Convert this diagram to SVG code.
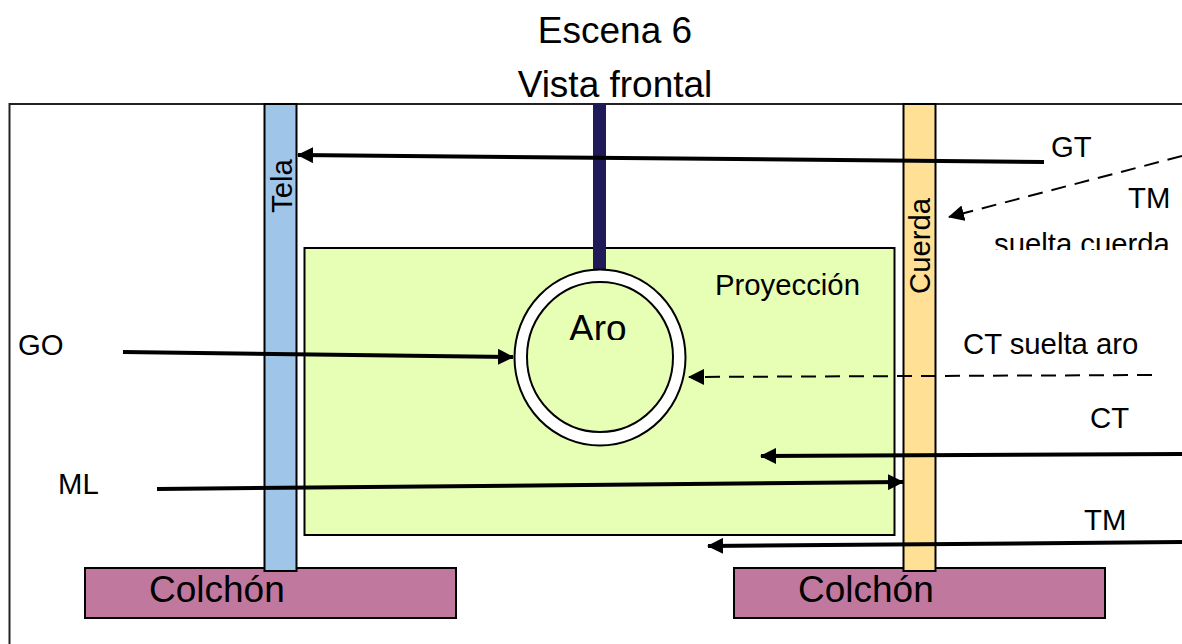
<svg xmlns="http://www.w3.org/2000/svg" width="1182" height="644" viewBox="0 0 1182 644">
<style>
text{font-family:"Liberation Sans",Arial,sans-serif;fill:#000}
.s{stroke:#000;stroke-width:2}
.a{stroke:#000;stroke-width:4;fill:none;marker-end:url(#h)}
.d{stroke:#000;stroke-width:2;fill:none;stroke-dasharray:15 9;marker-end:url(#hd)}
.t37{font-size:37px}.t29{font-size:29.300px}
</style>
<defs>
<marker id="h" markerUnits="userSpaceOnUse" markerWidth="16" markerHeight="16" refX="15" refY="8" orient="auto"><path d="M0 0L16 8L0 16Z" fill="#000"/></marker>
<marker id="hd" markerUnits="userSpaceOnUse" markerWidth="16" markerHeight="16" refX="15" refY="8" orient="auto"><path d="M0 0L16 8L0 16Z" fill="#000"/></marker>
<clipPath id="c1"><rect x="980" y="220" width="202" height="30"/></clipPath>
<clipPath id="c2"><rect x="560" y="300" width="80" height="40"/></clipPath>
</defs>
<rect width="1182" height="644" fill="#fff"/>
<g id="titulo">
<text class="t37" x="615" y="43" text-anchor="middle">Escena 6</text>
<text class="t37" x="615" y="97" text-anchor="middle">Vista frontal</text>
</g>
<g id="marco"><path d="M1182 104H9.500V644" fill="none" stroke="#222" stroke-width="2"/></g>
<g id="proyeccion"><rect class="s" x="304.500" y="248" width="590" height="287" fill="#e6ffb5"/>
<text class="t29" x="715" y="295">Proyección</text></g>
<g id="soporte"><rect x="593" y="104" width="13" height="168" fill="#211a59"/></g>
<g id="colchon1"><rect class="s" x="85" y="568" width="371" height="50" fill="#c0789e"/>
<text class="t37" x="149" y="602">Colchón</text></g>
<g id="colchon2"><rect class="s" x="734" y="568" width="371" height="50" fill="#c0789e"/>
<text class="t37" x="798" y="602">Colchón</text></g>
<g id="tela"><rect class="s" x="264.500" y="104" width="32" height="467" fill="#9fc5e8"/>
<text class="t29" transform="translate(292 213) rotate(-90)">Tela</text></g>
<g id="cuerda"><rect class="s" x="903.500" y="104" width="32" height="467" fill="#ffe095"/>
<text class="t29" transform="translate(929.500 294) rotate(-90)">Cuerda</text></g>
<g id="aro"><ellipse class="s" cx="600" cy="357.500" rx="85.500" ry="88" fill="#fff"/>
<ellipse class="s" cx="600" cy="357" rx="73" ry="75" fill="#e6ffb5"/>
<text class="t37" x="569" y="341" clip-path="url(#c2)">Aro</text></g>
<g id="conectores">
<path class="a" d="M1044 162L298 155"/>
<path class="d" d="M1182 156L949 217"/>
<path class="a" d="M123 352L513 357"/>
<path class="d" d="M1152 375L689 377"/>
<path class="a" d="M1182 454L761 456"/>
<path class="a" d="M157 489L903 482"/>
<path class="a" d="M1182 542L708 546"/>
</g>
<g id="etiquetas">
<text class="t29" x="1051" y="157">GT</text>
<text class="t29" x="1128" y="208">TM</text>
<text class="t29" x="994" y="254" clip-path="url(#c1)">suelta cuerda</text>
<text class="t29" x="18" y="355">GO</text>
<text class="t29" x="963" y="354">CT suelta aro</text>
<text class="t29" x="1090" y="428">CT</text>
<text class="t29" x="58" y="494">ML</text>
<text class="t29" x="1084" y="530">TM</text>
</g>
</svg>
